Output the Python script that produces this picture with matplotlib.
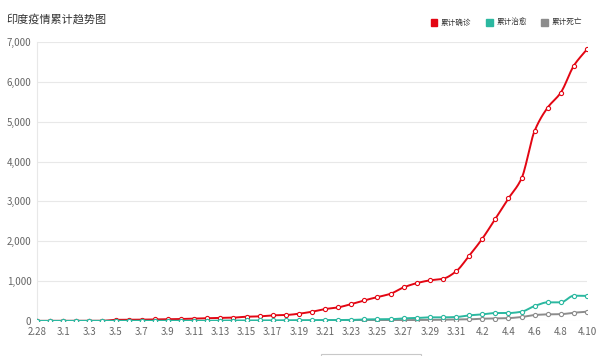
import numpy as np
import matplotlib
matplotlib.use("Agg")
import matplotlib.pyplot as plt
from matplotlib.patches import Rectangle

plt.rcParams['font.family'] = ['Noto Sans CJK SC', 'DejaVu Sans']

# dates 2.28 -> 4.10
dates = ['2.28', '2.29'] + [f'3.{d}' for d in range(1, 32)] + [f'4.{d}' for d in range(1, 11)]

confirmed = [3, 3, 3, 3, 3, 5, 30, 31, 34, 39, 43, 50, 60, 70, 80, 85,
             108, 117, 142, 150, 183, 233, 300, 342, 426, 518, 601, 684,
             844, 950, 1020, 1060, 1245, 1637, 2063, 2564, 3075, 3576,
             4770, 5356, 5731, 6408, 6817]
recovered = [3, 3, 3, 3, 3, 3, 3, 3, 3, 3, 3, 4, 4, 4, 10, 10,
             13, 14, 15, 15, 20, 23, 23, 25, 27, 40, 42, 45,
             67, 75, 92, 92, 100, 142, 167, 200, 200, 233,
             376, 468, 468, 635, 630]
deaths = [0, 0, 0, 0, 0, 0, 0, 0, 0, 0, 0, 0, 0, 1, 2, 2,
          2, 2, 3, 3, 4, 4, 4, 7, 9, 10, 13, 16,
          19, 24, 27, 32, 35, 41, 58, 62, 72, 100,
          150, 167, 172, 208, 233]

series = [
    ('累计确诊', confirmed, '#e30613'),
    ('累计治愈', recovered, '#2bb8a0'),
    ('累计死亡', deaths, '#8c8c8c'),
]


def smooth(x, y, n=12):
    # monotone cubic (Fritsch-Carlson) just for drawing the curve
    x = np.asarray(x, float)
    y = np.asarray(y, float)
    h = np.diff(x)
    d = np.diff(y) / h
    m = np.zeros_like(y)
    m[0], m[-1] = d[0], d[-1]
    for i in range(1, len(y) - 1):
        if d[i - 1] * d[i] <= 0:
            m[i] = 0
        else:
            m[i] = 2 / (1 / d[i - 1] + 1 / d[i])
    xs, ys = [], []
    for i in range(len(x) - 1):
        t = np.linspace(0, 1, n, endpoint=False)
        h00 = 2 * t**3 - 3 * t**2 + 1
        h10 = t**3 - 2 * t**2 + t
        h01 = -2 * t**3 + 3 * t**2
        h11 = t**3 - t**2
        xs.append(x[i] + t * h[i])
        ys.append(h00 * y[i] + h10 * h[i] * m[i] + h01 * y[i + 1] + h11 * h[i] * m[i + 1])
    xs.append([x[-1]])
    ys.append([y[-1]])
    return np.concatenate(xs), np.concatenate(ys)


fig = plt.figure(figsize=(6, 3.56), dpi=100)
ax = fig.add_axes([0.0617, 0.0983, 0.9166, 0.7837])

x = np.arange(len(dates))
# draw order: confirmed, deaths, recovered (recovered on top near zero)
for k, idx in enumerate([0, 2, 1]):
    name, vals, col = series[idx]
    xs, ys = smooth(x, vals)
    ax.plot(xs, ys, color=col, lw=1.4, zorder=3 + k)
    ax.plot(x, vals, ls='none', marker='o', ms=3, mfc='white', mec=col, mew=0.8, zorder=3.5 + k)

ax.set_xlim(0, len(dates) - 1)
ax.set_ylim(0, 7000)
ax.set_yticks(range(0, 7001, 1000))
ax.set_yticklabels([f'{v:,}' for v in range(0, 7001, 1000)])
ax.set_xticks(x[::2])
ax.set_xticklabels(dates[::2])
ax.tick_params(axis='both', length=0, labelsize=7, colors='#666666', pad=4)
ax.grid(axis='y', color='#e8e8e8', lw=0.8)
ax.set_axisbelow(True)
for s in ['top', 'right', 'bottom']:
    ax.spines[s].set_visible(False)
ax.spines['left'].set_color('#e8e8e8')
ax.spines['left'].set_linewidth(0.8)

fig.text(0.01, 0.947, '印度疫情累计趋势图', fontsize=8, color='#333333', va='center')

# legend
lx = [0.718, 0.810, 0.902]
for (name, vals, col), px in zip(series, lx):
    fig.patches.append(Rectangle((px, 0.927), 0.011, 0.019, transform=fig.transFigure,
                                 color=col, figure=fig))
    fig.text(px + 0.017, 0.937, name, fontsize=5.5, color='#333333', va='center')

# partially visible slider box at the bottom edge
fig.patches.append(Rectangle((0.535, -0.05), 0.167, 0.056, transform=fig.transFigure,
                             fill=False, edgecolor='#c8c8c8', lw=0.8, figure=fig))

fig.savefig('out.png', dpi=100)
